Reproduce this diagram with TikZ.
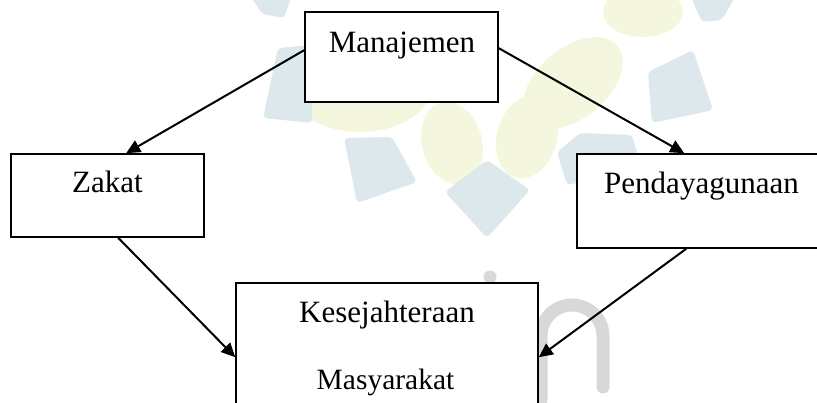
\documentclass[tikz,border=0pt]{standalone}
\usepackage{fontspec}
\setmainfont{Liberation Serif}
\usetikzlibrary{arrows.meta,calc}
\definecolor{wmteal}{RGB}{220,232,235}
\definecolor{wmyellow}{RGB}{244,247,222}
\definecolor{wmgrey}{RGB}{216,216,216}
\begin{document}
\begin{tikzpicture}[x=1pt,y=-1pt,
  box/.style={draw, fill=white, line width=1.6pt, inner sep=0pt},
  lbl/.style={anchor=base, inner sep=0pt, font=\fontsize{31}{37}\selectfont},
  conn/.style={line width=2pt, -{Triangle[length=14pt,width=13pt]}},
  wm/.style={rounded corners=4pt}]
\useasboundingbox (0,0) rectangle (817,403);
\clip (0,0) rectangle (817,403);
% watermark (faint logo)
\fill[wmyellow] (360,80) ellipse (75 and 52);
\fill[wmyellow, rotate around={15:(452,143)}] (452,143) ellipse (30 and 42);
\fill[wmyellow, rotate around={-15:(527,137)}] (527,137) ellipse (30 and 42);
\fill[wmyellow, rotate around={-50:(573,83)}] (573,83) ellipse (35 and 58);
\fill[wmyellow] (643,12) ellipse (40 and 25);
\fill[wmteal, wm] (344,138) -- (392,137) -- (417,182) -- (357,203) -- cycle;
\fill[wmteal, wm] (445,192) -- (487,160) -- (530,190) -- (487,238) -- cycle;
\fill[wmteal, wm] (263,118) -- (278,48) -- (312,45) -- (312,123) -- cycle;
\fill[wmteal, wm] (250,-5) -- (292,-5) -- (284,18) -- (262,14) -- cycle;
\fill[wmteal, wm] (648,72) -- (693,50) -- (713,110) -- (652,123) -- cycle;
\fill[wmteal, wm] (690,-5) -- (736,-5) -- (722,20) -- (702,22) -- cycle;
\fill[wmteal, wm] (557,152) -- (580,133) -- (632,135) -- (642,170) -- (567,185) -- cycle;
\draw[wmgrey, line width=13pt, line cap=round] (541,400) -- (541,336)
  arc[start angle=180, end angle=0, radius=31pt] -- (603,387);
\fill[wmgrey] (490,277) circle[radius=6.5pt];
% boxes
\node[box, minimum width=193pt, minimum height=90pt] (man) at (401.5,57) {};
\node[box, minimum width=193pt, minimum height=83pt] (zak) at (107.5,195.5) {};
\node[box, minimum width=263pt, minimum height=94pt] (pen) at (708.5,201) {};
\node[box, minimum width=302pt, minimum height=137pt] (kes) at (387,351.5) {};
% labels
\node[lbl] (manT) at (402,53) {Manajemen};
\node[lbl] (zakT) at (107.5,193) {Zakat};
\node[lbl] (penT) at (701.5,194) {Pendayagunaan};
\node[lbl] (kesT) at (387,323) {Kesejahteraan};
\node[lbl, font=\fontsize{29.5}{35}\selectfont] (masT) at (385.5,389) {Masyarakat};
% connectors
\draw[conn] ($(man.north west)+(0,39)$) -- ($(zak.north west)+(116,0)$);
\draw[conn] ($(man.north east)+(0,37)$) -- ($(pen.north west)+(108,0)$);
\draw[conn] ($(zak.south west)+(108,0)$) -- ($(kes.north west)+(0,75)$);
\draw[conn] ($(pen.south west)+(110,0)$) -- ($(kes.north east)+(0,75)$);
\end{tikzpicture}
\end{document}
